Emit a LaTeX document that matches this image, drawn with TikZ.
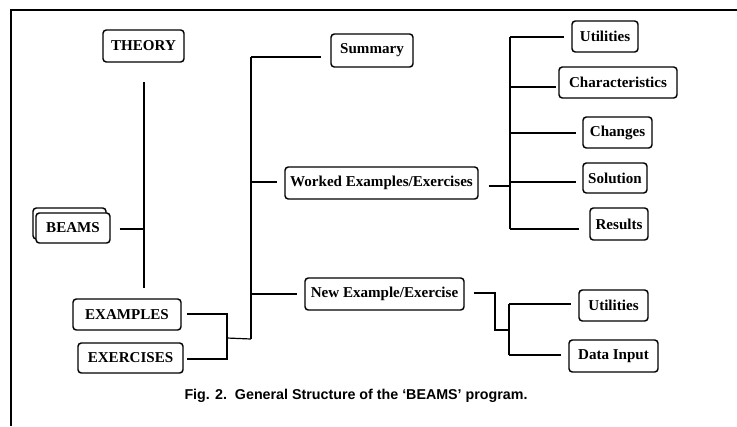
\documentclass[tikz,border=0pt]{standalone}
\usepackage{fontspec}
\setmainfont{Liberation Serif}
\newfontfamily\capfont[Ligatures=TeX]{Liberation Sans}
\usetikzlibrary{calc}
\begin{document}
\begin{tikzpicture}[x=0.75pt,y=-0.75pt,
  bx/.style 2 args={draw, line width=1.1pt, rounded corners=2.5pt, fill=white,
    inner sep=0pt, minimum width=#1*0.75pt, minimum height=#2*0.75pt,
    font=\bfseries\fontsize{11.3}{13}\selectfont},
  ln/.style={line width=0.9pt},
  frame/.style={line width=1.8pt}]
\useasboundingbox (0,0) rectangle (737,426);
\draw[frame] (11,426) -- (11,10) -- (737,10);

% left column
\node[bx={81}{32}] (theory) at (143.5,46) {THEORY};
\node[bx={73}{31}] (beamsback) at (69.5,223.5) {};
\node[bx={74}{30}] (beams) at (73,228) {BEAMS};
\node[bx={108}{31}] (examples) at (127,314.5) {EXAMPLES};
\node[bx={105}{30}] (exercises) at (130.5,358) {EXERCISES};

% middle column
\node[bx={82}{33}] (summary) at (372,50.5) {Summary};
\node[bx={193}{32}] (worked) at (381.5,183) {Worked Examples/Exercises};
\node[bx={159}{32}] (newex) at (384.5,294) {New Example/Exercise};

% right column
\node[bx={66}{31}] (util1) at (605,36.5) {Utilities};
\node[bx={118}{31}] (charac) at (618,82.5) {Characteristics};
\node[bx={69}{31}] (changes) at (617.5,132.5) {Changes};
\node[bx={64}{30}] (solution) at (615,178) {Solution};
\node[bx={58}{32}] (results) at (619,224) {Results};
\node[bx={69}{31}] (util2) at (613.5,305.5) {Utilities};
\node[bx={89}{32}] (datain) at (613.5,356) {Data Input};

% caption
\node[font=\capfont\bfseries\fontsize{10.7}{12}\selectfont] (cap) at (356,396)
  {Fig. 2.\ \ General Structure of the ‘BEAMS’ program.};

% junction coordinates
\coordinate (tTop) at (144,82);
\coordinate (tBot) at (144,288);
\coordinate (jB) at (144,229);
\coordinate (jExA) at (227,314);
\coordinate (jExB) at (227,359);
\coordinate (jExM) at (227,338);
\coordinate (tA) at (251,57);
\coordinate (tB) at (251,182);
\coordinate (tC) at (251,294);
\coordinate (jT) at (251,339);
\coordinate (rA) at (510,37);
\coordinate (rB) at (510,186);
\coordinate (rC) at (510,87);
\coordinate (rD) at (510,133);
\coordinate (rS) at (510,182);
\coordinate (rE) at (510,229);
\coordinate (nA) at (495,293);
\coordinate (nB) at (495,330);
\coordinate (nC) at (509,330);
\coordinate (nU) at (509,304);
\coordinate (nD) at (509,355);

% left connectors
\draw[ln] (tTop) -- (tBot);
\draw[ln] ($(beams.east)+(9,1)$) -- (jB);
\draw[ln] ($(examples.east)+(5,-0.5)$) -- (jExA) -- (jExB) -- ($(exercises.east)+(3,1)$);
\draw[ln] (jExM) -- (jT);

% trunk
\draw[ln] (tA) -- (jT);
\draw[ln] (tA) -- ($(summary.west)+(-9,6.5)$);
\draw[ln] (tB) -- ($(worked.west)+(-7,-1)$);
\draw[ln] (tC) -- ($(newex.west)+(-7,0)$);

% worked examples branch
\draw[ln] ($(worked.east)+(10,3)$) -- (rB);
\draw[ln] (rA) -- (rE);
\draw[ln] (rA) -- ($(util1.west)+(-7,0.5)$);
\draw[ln] (rC) -- ($(charac.west)+(-2,4.5)$);
\draw[ln] (rD) -- ($(changes.west)+(-6,0.5)$);
\draw[ln] (rS) -- ($(solution.west)+(-6,4)$);
\draw[ln] (rE) -- ($(results.west)+(-10,5)$);

% new example branch
\draw[ln] ($(newex.east)+(9,-1)$) -- (nA) -- (nB) -- (nC);
\draw[ln] (nU) -- (nD);
\draw[ln] (nU) -- ($(util2.west)+(-7,-1.5)$);
\draw[ln] (nD) -- ($(datain.west)+(-7,-1)$);
\end{tikzpicture}
\end{document}
